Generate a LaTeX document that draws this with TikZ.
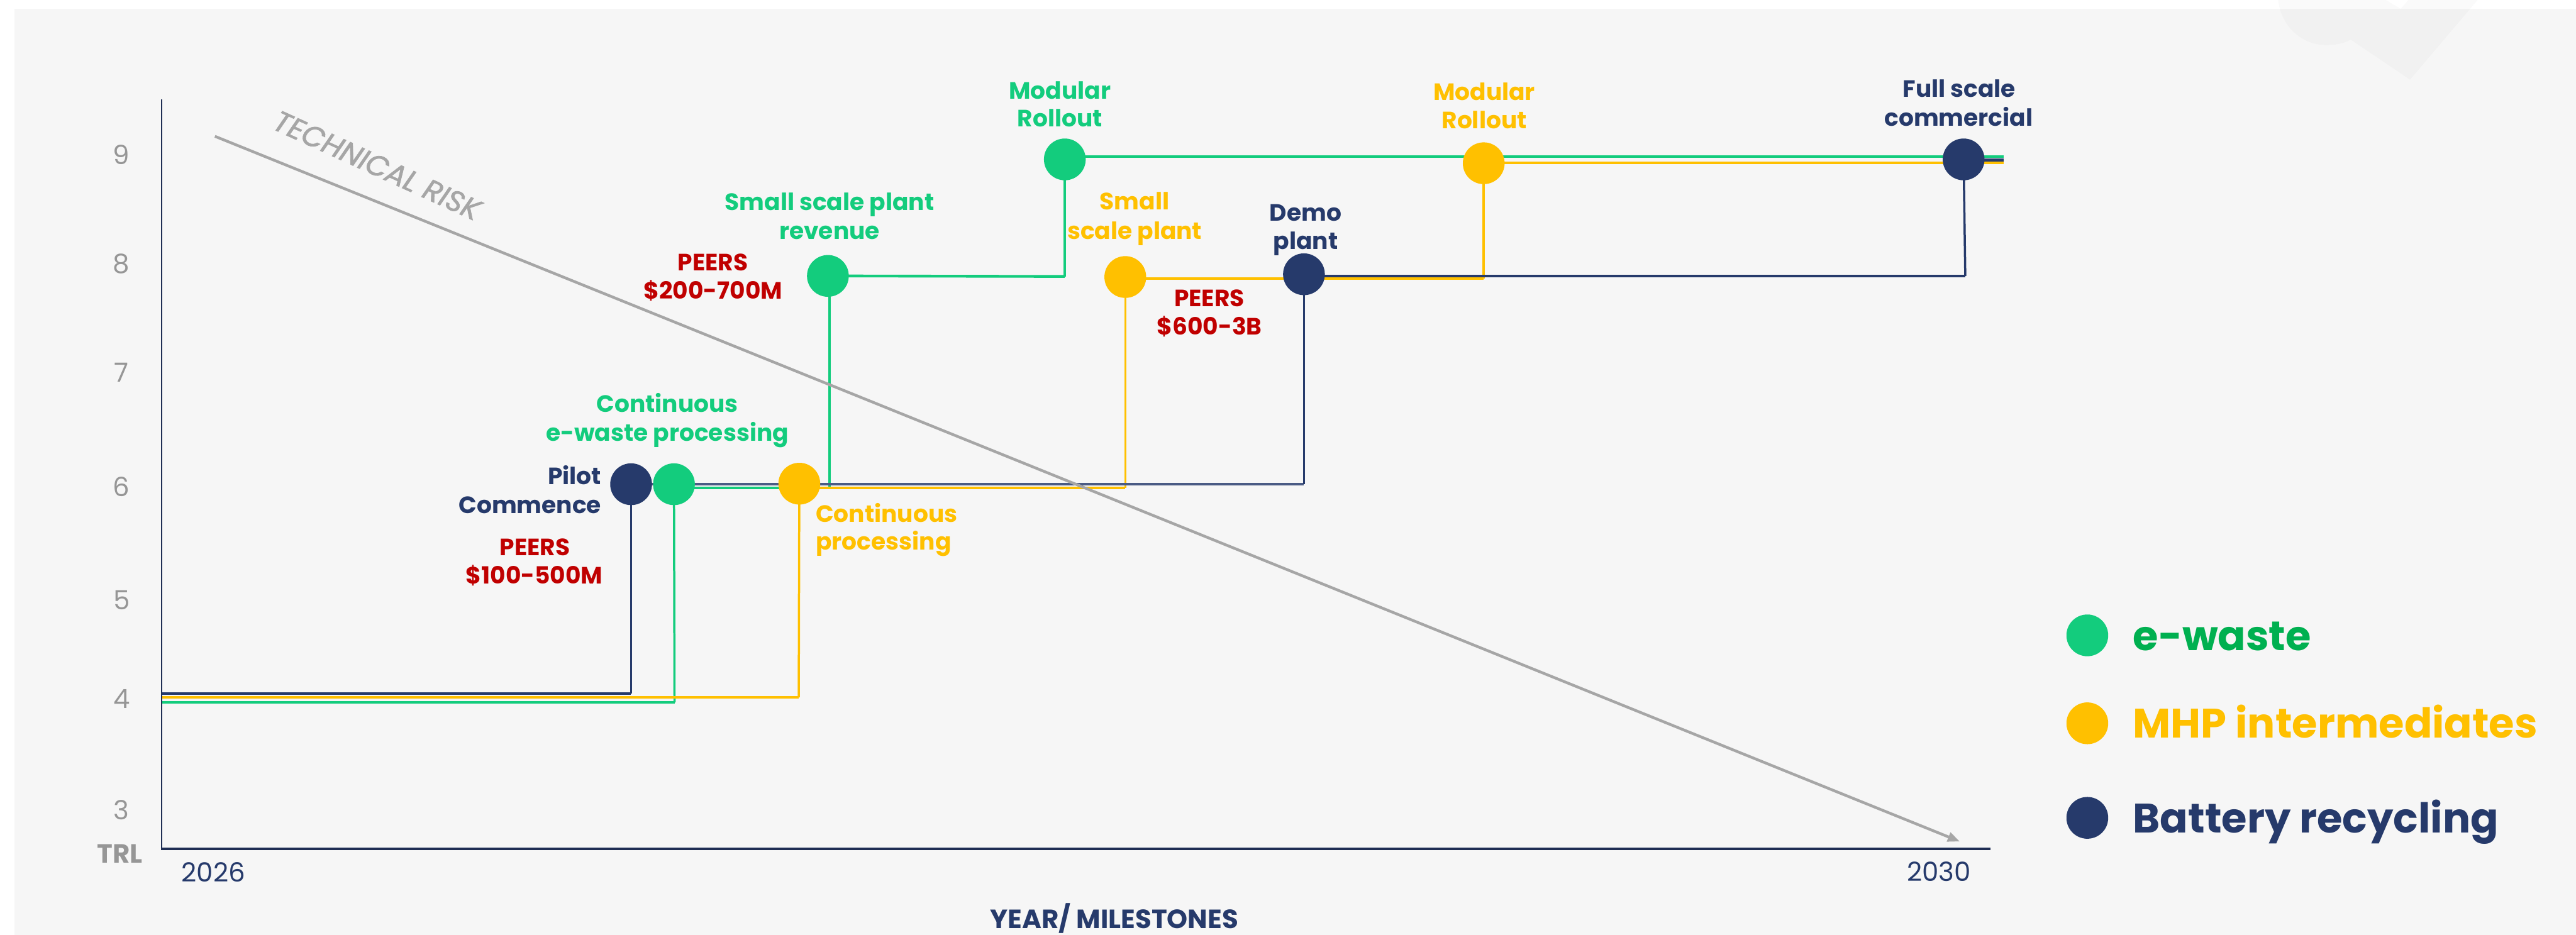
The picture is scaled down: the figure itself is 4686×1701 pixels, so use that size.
\documentclass[tikz,border=0pt]{standalone}
\usepackage{fontspec}
\setmainfont{Poppins}
\usetikzlibrary{arrows.meta}
\definecolor{egreen}{HTML}{13CC7D}
\definecolor{ewastetxt}{HTML}{00B050}
\definecolor{myellow}{HTML}{FFC000}
\definecolor{mnavy}{HTML}{263A6B}
\definecolor{mnavylight}{HTML}{4A5B84}
\definecolor{axnavy}{HTML}{1F2E54}
\definecolor{mred}{HTML}{C00000}
\definecolor{mgray}{HTML}{A6A6A6}
\definecolor{axgray}{HTML}{969696}
\definecolor{bggray}{HTML}{F6F6F6}
\pgfdeclarelayer{back}
\pgfdeclarelayer{lines}
\pgfsetlayers{back,lines,main}
\tikzset{
  lbl/.style={anchor=base, inner sep=0pt, font=\bfseries\fontsize{43}{52}\selectfont},
  dot/.style={circle, inner sep=0pt, minimum size=76pt},
  hseg/.style={line width=5pt},
  vseg/.style={line width=4pt},
  ticklbl/.style={anchor=center, inner sep=0pt, text=axgray, font=\fontsize{48}{58}\selectfont},
  yearlbl/.style={anchor=center, inner sep=0pt, text=mnavy, font=\fontsize{48}{58}\selectfont},
  legtxt/.style={anchor=base west, inner sep=0pt, font=\bfseries\fontsize{75}{84}\selectfont},
  riskline/.style={draw=mgray, line width=5pt, -{Triangle[length=22pt,width=17pt]}},
}
\begin{document}
\begin{tikzpicture}[x=1pt,y=-1pt]
\useasboundingbox (0,0) rectangle (4686,1701);
\begin{pgfonlayer}{back}
  \fill[white] (0,0) rectangle (4686,1701);
  \fill[bggray] (26,16) rectangle (4686,1701);
  \fill[black,opacity=0.02] (4144,0) .. controls (4150,50) and (4190,85) .. (4238,82)
     .. controls (4255,81) and (4268,77) .. (4276,72) -- (4384,145) -- (4507,0)
     -- (4381,0) -- (4367,16) -- (4340,0) -- cycle;
\end{pgfonlayer}

% axes
\coordinate (ytop) at (294,181);
\coordinate (orig) at (294,1544);
\coordinate (xend) at (3621,1544);
\draw[axnavy, line width=3pt] (ytop) -- (orig);
\draw[axnavy, line width=4.5pt] ([xshift=-1.5pt]orig) -- (xend);

% tick labels
\node[ticklbl] (t9) at (221,282) {9};
\node[ticklbl] (t8) at (221,480) {8};
\node[ticklbl] (t7) at (221,678) {7};
\node[ticklbl] (t6) at (221,885) {6};
\node[ticklbl] (t5) at (221,1092) {5};
\node[ticklbl] (t4) at (222,1272) {4};
\node[ticklbl] (t3) at (221,1474) {3};
\node[ticklbl, font=\bfseries\fontsize{48}{58}\selectfont] (trl) at (218,1553) {TRL};
\node[yearlbl] (y2026) at (388,1587) {2026};
\node[yearlbl] (y2030) at (3527,1586) {2030};
\node[anchor=base, inner sep=0pt, text=mnavy, font=\bfseries\fontsize{48}{58}\selectfont] (xlab) at (2027,1689) {YEAR/ MILESTONES};

% milestone circles
\node[dot, fill=mnavy] (pilot) at (1148,881) {};
\node[dot, fill=egreen] (gcont) at (1226,881) {};
\node[dot, fill=myellow] (ycont) at (1454,880) {};
\node[dot, fill=egreen] (sspr) at (1506,502) {};
\node[dot, fill=egreen] (gmod) at (1937,290) {};
\node[dot, fill=myellow] (ysmall) at (2047,504) {};
\node[dot, fill=mnavy] (demo) at (2372,499) {};
\node[dot, fill=myellow] (ymod) at (2699,297) {};
\node[dot, fill=mnavy] (full) at (3572,290) {};

% corner coordinates
\coordinate (gA) at (294,1278);  \coordinate (gB) at (1227,1278);
\coordinate (gC) at (1509,888);  \coordinate (gD) at (1937,503);
\coordinate (gE) at (3645,285);
\coordinate (yA) at (294,1269);  \coordinate (yB) at (1453,1269);
\coordinate (yC) at (2047,888);  \coordinate (yD) at (2699,507);
\coordinate (yE) at (3645,296);
\coordinate (nA) at (294,1262);  \coordinate (nB) at (1148,1262);
\coordinate (nC) at (2372,881);  \coordinate (nD) at (3575,502);
\coordinate (nE) at (3645,291);

\begin{pgfonlayer}{lines}
  % e-waste
  \draw[egreen, hseg] (gA) -- (gB);
  \draw[egreen, vseg] (gB) -- (gcont.center);
  \draw[egreen, hseg] (gcont.center |- gC) -- (gC);
  \draw[egreen, vseg] (gC) -- (gC |- sspr.center);
  \draw[egreen, hseg] (sspr.center) -- (gD);
  \draw[egreen, vseg] (gD) -- (gmod.center);
  \draw[egreen, hseg] (gmod.center |- gE) -- (gE);
  % MHP
  \draw[myellow, hseg] (yA) -- (yB);
  \draw[myellow, vseg] (yB) -- (ycont.center);
  \draw[myellow, hseg] (ycont.center |- yC) -- (yC);
  \draw[myellow, vseg] (yC) -- (ysmall.center);
  \draw[myellow, hseg] (ysmall.center |- yD) -- (yD);
  \draw[myellow, vseg] (yD) -- (ymod.center);
  \draw[myellow, hseg] (ymod.center |- yE) -- (yE);
  % battery
  \draw[mnavy, hseg] (nA) -- (nB);
  \draw[mnavy, vseg] (nB) -- (pilot.center);
  \draw[mnavylight, hseg] (pilot.center) -- (nC);
  \draw[mnavy, vseg] (nC) -- (demo.center);
  \draw[mnavy, hseg] (demo.center |- nD) -- (nD);
  \draw[mnavy, vseg] (nD) -- (full.center);
  \draw[mnavy, hseg] (full.center |- nE) -- (nE);
  % technical risk
  \coordinate (rA) at (391,248);
  \coordinate (rB) at (3565,1531);
  \draw[riskline] (rA) -- (rB);
\end{pgfonlayer}
\node[inner sep=0pt, rotate=-24.5, text=mgray, font=\itshape\fontsize{53}{60}\selectfont\addfontfeature{FakeBold=1.6}] (risk) at (686,301) {TECHNICAL RISK};

% labels
\node[lbl,text=egreen] (sspr1) at (1509,383) {Small scale plant};
\node[lbl,text=egreen] (sspr2) at (1509,435) {revenue};
\node[lbl,text=mred] (peers1a) at (1297,493) {PEERS};
\node[lbl,text=mred] (peers1b) at (1297,544) {\$200-700M};
\node[lbl,text=egreen] (gmodl1) at (1928,180) {Modular};
\node[lbl,text=egreen] (gmodl2) at (1928,231) {Rollout};
\node[lbl,text=myellow] (ymodl1) at (2700,183) {Modular};
\node[lbl,text=myellow] (ymodl2) at (2700,234) {Rollout};
\node[lbl,text=myellow] (ysml1) at (2064,382) {Small};
\node[lbl,text=myellow] (ysml2) at (2064,435) {scale plant};
\node[lbl,text=mnavy] (demol1) at (2375,402) {Demo};
\node[lbl,text=mnavy] (demol2) at (2375,454) {plant};
\node[lbl,text=mred] (peers2a) at (2200,558) {PEERS};
\node[lbl,text=mred] (peers2b) at (2200,609) {\$600-3B};
\node[lbl,text=mnavy] (fulll1) at (3564,177) {Full scale};
\node[lbl,text=mnavy] (fulll2) at (3563,229) {commercial};
\node[lbl,text=egreen] (gcontl1) at (1214,750) {Continuous};
\node[lbl,text=egreen] (gcontl2) at (1214,802) {e-waste processing};
\node[lbl,text=mnavy,anchor=base east] (pilotl1) at (1094,882) {Pilot};
\node[lbl,text=mnavy,anchor=base east] (pilotl2) at (1094,934) {Commence};
\node[lbl,text=mred] (peers3a) at (973,1011) {PEERS};
\node[lbl,text=mred] (peers3b) at (972,1062) {\$100-500M};
\node[lbl,text=myellow,anchor=base west] (ycontl1) at (1484,950) {Continuous};
\node[lbl,text=myellow,anchor=base west] (ycontl2) at (1484,1001) {processing};

% legend
\node[dot, fill=egreen] (leg1) at (3797,1156) {};
\node[legtxt, text=ewastetxt] (leg1t) at (3880,1183) {e-waste};
\node[dot, fill=myellow] (leg2) at (3797,1316) {};
\node[legtxt, text=myellow] (leg2t) at (3880,1343) {MHP intermediates};
\node[dot, fill=mnavy] (leg3) at (3797,1488) {};
\node[legtxt, text=mnavy] (leg3t) at (3880,1515) {Battery recycling};
\end{tikzpicture}
\end{document}
